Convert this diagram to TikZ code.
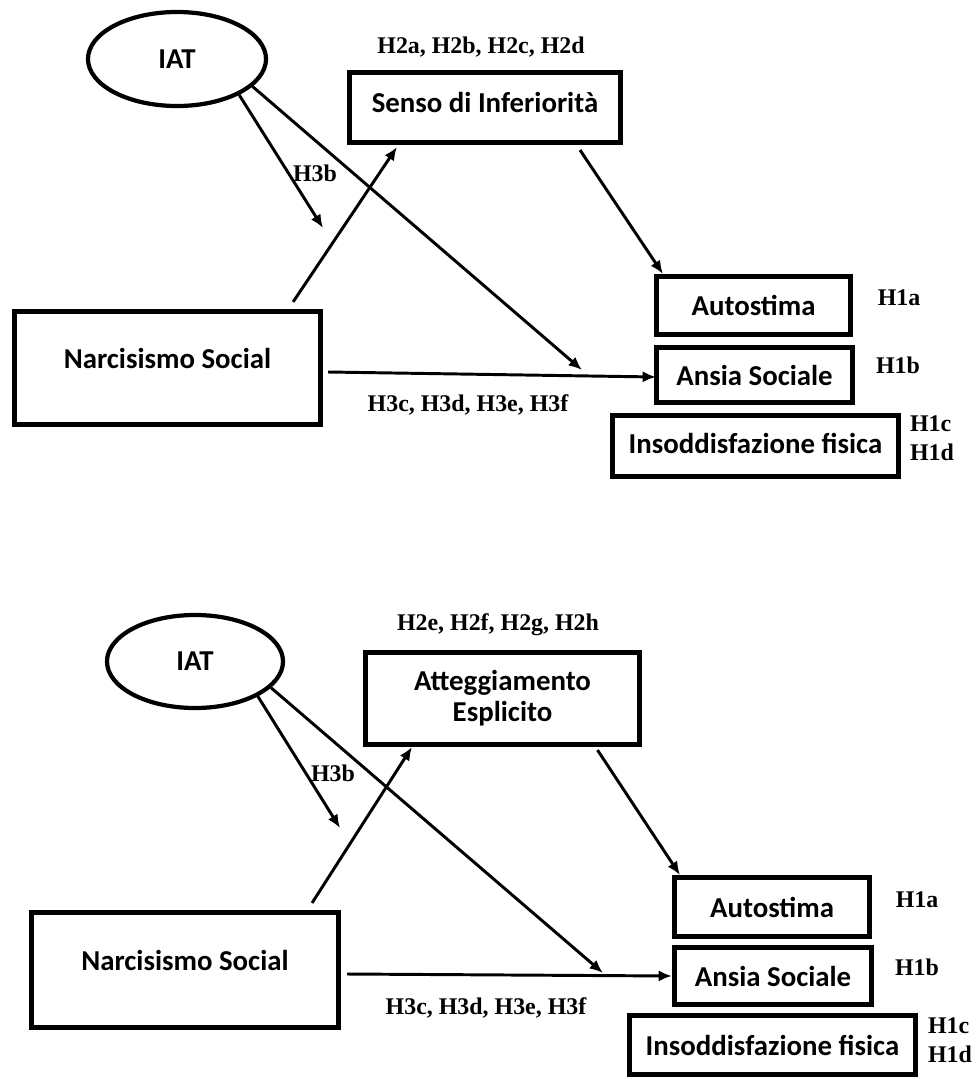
\documentclass[tikz,border=0pt]{standalone}
\usepackage{fontspec}
\setmainfont{Liberation Serif}
\newfontfamily\boxfont{Carlito}
\usetikzlibrary{calc,arrows.meta,shapes.geometric}
\begin{document}
\begin{tikzpicture}[x=0.025cm,y=-0.025cm,
	box/.style={draw, line width=3.6pt, inner sep=0pt, align=center, font=\boxfont\bfseries\fontsize{20.5}{22}\selectfont},
	oval/.style={draw, ellipse, line width=3pt, inner sep=0pt, font=\boxfont\bfseries\fontsize{20.5}{25}\selectfont},
	hyp/.style={inner sep=0pt, font=\bfseries\fontsize{17}{20.5}\selectfont},
	arr/.style={-{Latex[length=9.5pt,width=8pt]}, line width=2.1pt}]
	\useasboundingbox (0,0) rectangle (976,1079);
	% first model
	\node[oval, minimum width=4.45cm, minimum height=2.35cm] (iatA) at (177,59) {IAT};
	\node[box, minimum width=6.775cm, minimum height=1.75cm, text depth=7pt] (sensoA) at (485,107.5) {Senso di Inferiorità};
	\node[box, minimum width=7.65cm, minimum height=2.825cm, text depth=14pt] (narcA) at (167.5,368) {Narcisismo Social};
	\node[box, minimum width=4.85cm, minimum height=1.45cm] (autoA) at (753.5,305.5) {Autostima};
	\node[box, minimum width=4.9cm, minimum height=1.375cm] (ansiaA) at (754.5,375) {Ansia Sociale};
	\node[box, minimum width=7.15cm, minimum height=1.525cm, text depth=4pt] (insodA) at (755.5,446) {Insoddisfazione fisica};
	\node[hyp] (h2A) at (481,47) {H2a, H2b, H2c, H2d};
	\node[hyp] (h3bA) at (315,173) {H3b};
	\node[hyp] (h3cA) at (468,405) {H3c, H3d, H3e, H3f};
	\node[hyp] (h1aA) at (899,298) {H1a};
	\node[hyp] (h1bA) at (898,365) {H1b};
	\node[hyp, align=left] (h1cA) at (932,438) {H1c\\H1d};
	\coordinate (modA) at (323,228);
	\coordinate (joinA) at (582,370);
	\draw[arr] (iatA.-30) -- (modA);
	\draw[arr] (iatA.-20) -- (joinA);
	\draw[arr] ($(narcA.north east)+(-30,-7)$) -- ($(sensoA.south west)+(50,2)$);
	\draw[arr] ($(sensoA.south)+(95,5)$) -- ($(autoA.north west)+(9,0)$);
	\draw[arr] ($(narcA.east)+(5,4)$) -- ($(ansiaA.west)+(2,2)$);
	% second model
	\node[oval, minimum width=4.4cm, minimum height=2.325cm] (iatB) at (195,661.5) {IAT};
	\node[box, minimum width=6.85cm, minimum height=2.3cm] (attegB) at (502.5,698.5) {Atteggiamento\\Esplicito};
	\node[box, minimum width=7.675cm, minimum height=2.875cm, text depth=14pt] (narcB) at (185,970) {Narcisismo Social};
	\node[box, minimum width=4.875cm, minimum height=1.475cm] (autoB) at (772,907) {Autostima};
	\node[box, minimum width=4.925cm, minimum height=1.425cm] (ansiaB) at (773,976) {Ansia Sociale};
	\node[box, minimum width=7.15cm, minimum height=1.475cm] (insodB) at (772.5,1045) {Insoddisfazione fisica};
	\node[hyp] (h2B) at (498,625) {H2e, H2f, H2g, H2h};
	\node[hyp] (h3bB) at (333,773) {H3b};
	\node[hyp] (h3cB) at (486,1008) {H3c, H3d, H3e, H3f};
	\node[hyp] (h1aB) at (917,900) {H1a};
	\node[hyp] (h1bB) at (917,967) {H1b};
	\node[hyp, align=left] (h1cB) at (950,1040) {H1c\\H1d};
	\coordinate (modB) at (340,828);
	\coordinate (joinB) at (603,973);
	\draw[arr] (iatB.-29) -- (modB);
	\draw[arr] (iatB.-19) -- (joinB);
	\draw[arr] ($(narcB.north east)+(-29,-7)$) -- ($(attegB.south west)+(49,0)$);
	\draw[arr] ($(attegB.south)+(95,3)$) -- ($(autoB.north west)+(8,0)$);
	\draw[arr] ($(narcB.east)+(6,4)$) -- (ansiaB.west);
\end{tikzpicture}
\end{document}
